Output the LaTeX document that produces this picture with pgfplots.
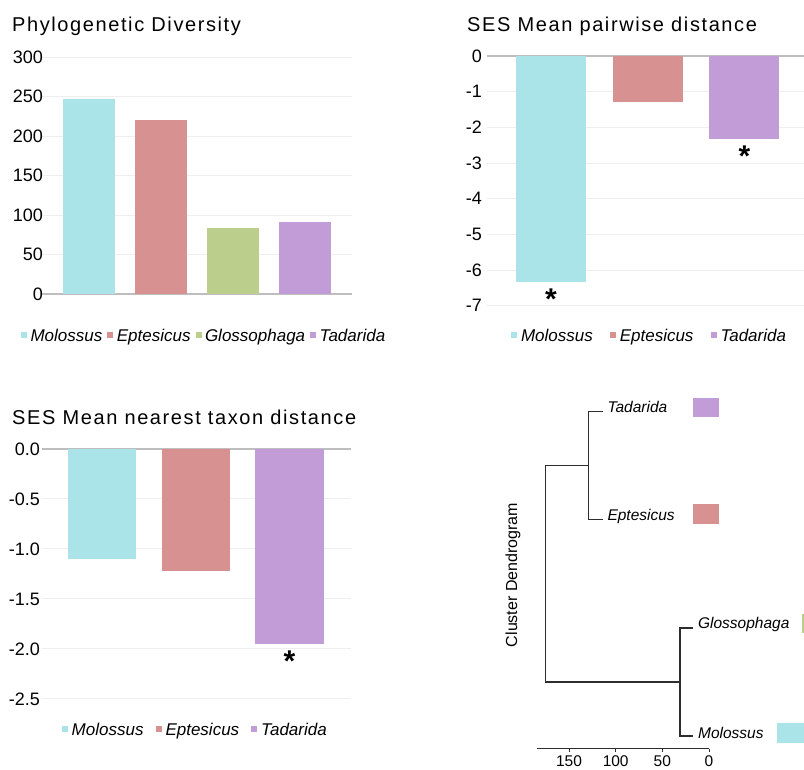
\documentclass[border=0pt]{standalone}
\usepackage{pgfplots}
\pgfplotsset{compat=1.18}
\usepackage{fontspec}
\setmainfont{Liberation Sans}
\newfontfamily\titlefont[LetterSpace=8]{Liberation Sans}
\definecolor{cMol}{RGB}{171,228,232}
\definecolor{cEpt}{RGB}{216,145,145}
\definecolor{cGlo}{RGB}{188,206,140}
\definecolor{cTad}{RGB}{194,156,214}
\definecolor{gridc}{RGB}{238,238,238}
\definecolor{zeroc}{RGB}{190,190,190}
\definecolor{dendc}{RGB}{45,45,45}
\pgfplotsset{
  barpanel/.style={scale only axis, axis line style={draw=none}, xtick=\empty,
    major tick length=0pt, ymajorgrids, grid style={color=gridc, line width=1pt},
    clip=false,
    yticklabel style={font=\fontsize{18}{18}\selectfont, inner sep=0pt, anchor=east},
    legend columns=-1,
    legend style={draw=none, fill=none, inner sep=0pt, outer sep=0pt, anchor=west,
      font=\fontsize{17}{17}\selectfont\itshape,
      nodes={inner sep=0pt, text height=12.2pt, text depth=0pt}}},
  bar/.style={ybar, bar shift=0pt, draw=none, fill=#1,
    legend image code/.code={\fill[#1] (0pt,-3pt) rectangle (6pt,3pt);}}
}
\tikzset{sigstar/.style={font=\fontsize{30}{30}\selectfont\bfseries, anchor=north, inner sep=0pt, yshift=-6.6pt},
  ttl/.style={anchor=base west, inner sep=0pt, font=\titlefont\fontsize{20}{20}\selectfont}}
\begin{document}
\begin{tikzpicture}
\path[use as bounding box] (0,0) rectangle (804pt,770pt);

% Panel 1
\node[ttl] at (12pt,738.3pt) {Phylogenetic Diversity};
\begin{axis}[barpanel, at={(42pt,476pt)}, anchor=south west, width=310pt, height=236.7pt,
  xmin=-0.653, xmax=3.653, ymin=0, ymax=300,
  ytick={0,50,100,150,200,250,300}, yticklabels={{0\hspace{8.7pt}},50,100,150,200,250,300},
  yticklabel style={xshift=1pt},
  legend style={at={(-0.0677,-0.1732)},
    /tikz/every odd column/.append style={column sep=3.5pt},
    /tikz/every even column/.append style={column sep=5pt}}]
\addplot[forget plot, color=zeroc, line width=2pt] coordinates {(-0.653,0) (3.653,0)};
\addplot[bar=cMol, bar width=0.722] coordinates {(0,247)};
\addplot[bar=cEpt, bar width=0.722] coordinates {(1,221)};
\addplot[bar=cGlo, bar width=0.722] coordinates {(2,84)};
\addplot[bar=cTad, bar width=0.722] coordinates {(3,91)};
\legend{Molossus, Eptesicus, Glossophaga, Tadarida}
\end{axis}

% Panel 2
\node[ttl] at (467pt,738pt) {SES Mean pairwise distance};
\begin{axis}[barpanel, at={(487pt,464.3pt)}, anchor=south west, width=317pt, height=249.7pt,
  xmin=-0.662, xmax=2.616, ymin=-7, ymax=0,
  ytick={0,-1,-2,-3,-4,-5,-6,-7}, yticklabels={0,-1,-2,-3,-4,-5,-6,-7},
  yticklabel style={xshift=-5pt},
  legend style={at={(0.0757,-0.117)},
    /tikz/every odd column/.append style={column sep=4pt},
    /tikz/every even column/.append style={column sep=17pt}}]
\addplot[forget plot, color=zeroc, line width=2pt] coordinates {(-0.662,0) (2.616,0)};
\addplot[bar=cMol, bar width=0.724] coordinates {(0,-6.33)};
\addplot[bar=cEpt, bar width=0.724] coordinates {(1,-1.28)};
\addplot[bar=cTad, bar width=0.724] coordinates {(2,-2.32)};
\legend{Molossus, Eptesicus, Tadarida}
\node[sigstar] at (axis cs:0,-6.33) {*};
\node[sigstar] at (axis cs:2,-2.32) {*};
\end{axis}

% Panel 3
\node[ttl] at (12pt,345pt) {SES Mean nearest taxon distance};
\begin{axis}[barpanel, at={(42pt,71pt)}, anchor=south west, width=309pt, height=250pt,
  xmin=-0.64, xmax=2.656, ymin=-2.5, ymax=0,
  ytick={0,-0.5,-1,-1.5,-2,-2.5}, yticklabels={0.0,-0.5,-1.0,-1.5,-2.0,-2.5},
  yticklabel style={xshift=-2pt},
  legend style={at={(0.0638,-0.12)},
    /tikz/every odd column/.append style={column sep=4pt},
    /tikz/every even column/.append style={column sep=12pt}}]
\addplot[forget plot, color=zeroc, line width=2pt] coordinates {(-0.64,0) (2.656,0)};
\addplot[bar=cMol, bar width=0.726] coordinates {(0,-1.10)};
\addplot[bar=cEpt, bar width=0.726] coordinates {(1,-1.22)};
\addplot[bar=cTad, bar width=0.726] coordinates {(2,-1.95)};
\legend{Molossus, Eptesicus, Tadarida}
\node[sigstar] at (axis cs:2,-1.95) {*};
\end{axis}

% Panel 4: dendrogram
\begin{axis}[at={(537.3pt,21pt)}, anchor=south west, scale only axis, width=171.7pt, height=369.7pt,
  x dir=reverse, xmin=0, xmax=184, ymin=0.88, ymax=4.3,
  axis x line=bottom, axis y line=none,
  x axis line style={-, line width=1pt, color=dendc},
  xtick={0,50,100,150}, xticklabels={0,50,100,150},
  tick align=outside, major tick length=3pt,
  tick style={line width=1pt, color=dendc},
  xticklabel style={font=\fontsize{15.5}{15.5}\selectfont, inner sep=0pt, anchor=north, yshift=-3.7pt},
  clip=false]
\addplot[dendc, line width=1.2pt] coordinates {(113.9,4) (129.3,4) (129.3,3) (113.9,3)};
\addplot[dendc, line width=1.2pt] coordinates {(16.8,2) (31.1,2) (31.1,1) (16.8,1)};
\addplot[dendc, line width=1.2pt] coordinates {(129.3,3.5) (175.4,3.5) (175.4,1.5) (31.1,1.5)};
\addplot[fill=cTad, draw=none] coordinates {(17.5,4.1295) (-10.7,4.1295) (-10.7,3.948) (17.5,3.948)} -- cycle;
\addplot[fill=cEpt, draw=none] coordinates {(17.5,3.146) (-10.7,3.146) (-10.7,2.961) (17.5,2.961)} -- cycle;
\addplot[fill=cGlo, draw=none] coordinates {(-100,2.129) (-120,2.129) (-120,1.950) (-100,1.950)} -- cycle;
\addplot[fill=cMol, draw=none] coordinates {(-72.5,1.118) (-120,1.118) (-120,0.933) (-72.5,0.933)} -- cycle;
\node[anchor=base west, inner sep=0pt, xshift=4.6pt, yshift=-0.5pt, font=\fontsize{15.5}{15.5}\selectfont\itshape] at (axis cs:113.9,4) {Tadarida};
\node[anchor=base west, inner sep=0pt, xshift=4.6pt, yshift=-0.5pt, font=\fontsize{15.5}{15.5}\selectfont\itshape] at (axis cs:113.9,3) {Eptesicus};
\node[anchor=base west, inner sep=0pt, xshift=4.6pt, yshift=-0.5pt, font=\fontsize{15.5}{15.5}\selectfont\itshape] at (axis cs:16.8,2) {Glossophaga};
\node[anchor=base west, inner sep=0pt, xshift=4.6pt, yshift=-2pt, font=\fontsize{15.5}{15.5}\selectfont\itshape] at (axis cs:16.8,1) {Molossus};
\node[rotate=90, font=\fontsize{16}{16}\selectfont] at (axis cs:210,2.489) {Cluster Dendrogram};
\end{axis}
\end{tikzpicture}
\end{document}
